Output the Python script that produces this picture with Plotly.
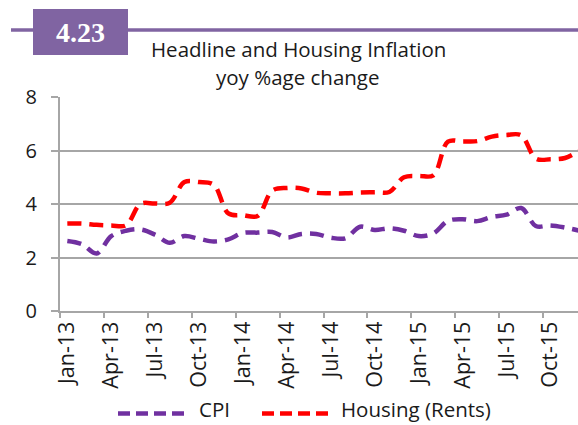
import plotly.graph_objects as go

# Monthly categories, Jan-13 .. Dec-15
MONTHS = ["Jan", "Feb", "Mar", "Apr", "May", "Jun",
          "Jul", "Aug", "Sep", "Oct", "Nov", "Dec"]
categories = [f"{m}-{y}" for y in ("13", "14", "15") for m in MONTHS]

# Year-on-year % change
cpi = [2.62, 2.50, 2.15, 2.80, 3.00, 3.05, 2.85, 2.55, 2.80, 2.70, 2.60, 2.68,
       2.92, 2.93, 2.95, 2.75, 2.88, 2.88, 2.74, 2.72, 3.15, 3.03, 3.09, 3.00,
       2.80, 2.90, 3.37, 3.43, 3.36, 3.52, 3.60, 3.85, 3.18, 3.20, 3.12, 3.00]
housing = [3.27, 3.27, 3.22, 3.20, 3.20, 4.00, 4.02, 4.05, 4.82, 4.82, 4.72, 3.65,
           3.58, 3.55, 4.50, 4.60, 4.58, 4.42, 4.40, 4.40, 4.43, 4.44, 4.45, 5.00,
           5.05, 5.07, 6.33, 6.34, 6.35, 6.52, 6.58, 6.57, 5.70, 5.67, 5.72, 6.00]

series_names = ["CPI", "Housing (Rents)"]
series_colors = ["#7030A0", "#FF0000"]

y_ticks = [0, 2, 4, 6, 8]
chart_number = "4.23"
title_lines = ["Headline and Housing Inflation", "yoy %age change"]

FONT = "Open Sans"
GRID = "#A6A6A6"
HEADER = "#8064A2"
TEXT = "#1a1a1a"

# Canvas and plot-area geometry (pixels)
WIDTH, HEIGHT = 578, 425
L, R, T, B = 60, 578, 97, 311
PW, PH = R - L, B - T


def px(x):
    return (x - L) / PW


def py(y):
    return (B - y) / PH


fig = go.Figure()
for name, vals, col in zip(series_names, [cpi, housing], series_colors):
    fig.add_trace(go.Scatter(
        x=categories, y=vals, name=name, mode="lines",
        line=dict(color=col, width=4.5, dash="14px,8px", shape="spline", smoothing=1),
        showlegend=False, hoverinfo="x+y+name",
    ))

shapes = [
    # header rule and numbered tab
    dict(type="line", xref="paper", yref="paper", x0=px(11), x1=px(580),
         y0=py(30), y1=py(30), line=dict(color=HEADER, width=3.5), layer="above"),
    dict(type="rect", xref="paper", yref="paper", x0=px(33), x1=px(128),
         y0=py(55), y1=py(9), fillcolor=HEADER, line=dict(width=0), layer="above"),
]
annotations = [
    dict(text=f"<b>{chart_number}</b>", xref="paper", yref="paper",
         x=px(80.5), y=py(32.5), xanchor="center", yanchor="middle", showarrow=False,
         font=dict(family="Liberation Serif", size=28, color="white")),
    dict(text=title_lines[0], xref="paper", yref="paper", x=px(298.5), y=py(48.5),
         xanchor="center", yanchor="middle", showarrow=False,
         font=dict(family=FONT, size=20.5, color=TEXT)),
    dict(text=title_lines[1], xref="paper", yref="paper", x=px(297.5), y=py(77),
         xanchor="center", yanchor="middle", showarrow=False,
         font=dict(family=FONT, size=20.5, color=TEXT)),
]

# Legend drawn below the axis labels
legend_items = [(118, 185, 197), (262, 328, 339)]
legend_y = 413.5
for (x0, x1, tx), name, col in zip(legend_items, series_names, series_colors):
    shapes.append(dict(type="line", xref="paper", yref="paper", x0=px(x0), x1=px(x1),
                       y0=py(legend_y), y1=py(legend_y),
                       line=dict(color=col, width=4.5, dash="12px,6px")))
    annotations.append(dict(text=name, xref="paper", yref="paper", x=px(tx), y=py(HEIGHT),
                            xanchor="left", yanchor="bottom", showarrow=False,
                            font=dict(family=FONT, size=20.5, color=TEXT)))

fig.update_layout(
    width=WIDTH, height=HEIGHT,
    margin=dict(l=L, r=WIDTH - R, t=T, b=HEIGHT - B, autoexpand=False),
    paper_bgcolor="white", plot_bgcolor="white",
    font=dict(family=FONT, color=TEXT),
    shapes=shapes, annotations=annotations,
    xaxis=dict(
        type="category", categoryorder="array", categoryarray=categories,
        range=[-0.5, -0.5 + PW / 14.64], tickmode="linear", tick0=0, dtick=3,
        tickson="boundaries", ticks="outside", ticklen=5, tickwidth=2, tickcolor=GRID,
        tickangle=-90, tickfont=dict(family=FONT, size=21.5, color=TEXT),
        showline=True, linecolor=GRID, linewidth=2, showgrid=False, zeroline=False,
        automargin=False, fixedrange=True,
    ),
    yaxis=dict(
        range=[0, 8], tickvals=y_ticks, ticks="outside", ticklen=7, tickwidth=2,
        tickcolor=GRID, tickfont=dict(family=FONT, size=20, color=TEXT),
        ticklabelstandoff=10,
        showline=True, linecolor=GRID, linewidth=2,
        showgrid=True, gridcolor=GRID, gridwidth=2, zeroline=False,
        automargin=False, fixedrange=True,
    ),
)

fig.write_html("out.html")
